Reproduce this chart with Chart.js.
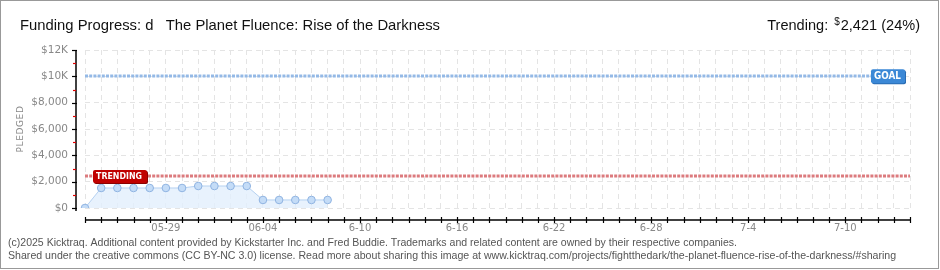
<!DOCTYPE html>
<html>
<head>
<meta charset="utf-8">
<script src="https://cdn.jsdelivr.net/npm/chart.js@4/dist/chart.umd.min.js"></script>
<style>
html,body{margin:0;padding:0;background:#fff;}
canvas{display:block;}
</style>
</head>
<body>
<canvas id="c" width="940" height="270"></canvas>
<script>
const days = ['05-24','05-25','05-26','05-27','05-28','05-29','05-30','05-31',
  '06-01','06-02','06-03','06-04','06-05','06-06','06-07','06-08','06-09','06-10',
  '06-11','06-12','06-13','06-14','06-15','06-16','06-17','06-18','06-19','06-20',
  '06-21','06-22','06-23','06-24','06-25','06-26','06-27','06-28','06-29','06-30',
  '07-01','07-02','07-03','07-04','07-05','07-06','07-07','07-08','07-09','07-10',
  '07-11','07-12','07-13','07-14'];
const pledged = [0, 1520, 1520, 1520, 1520, 1520, 1520, 1670, 1670, 1670, 1670, 610, 610, 610, 610, 610];
const labelDays = ['05-29','06-04','06-10','06-16','06-22','06-28','07-04','07-10'];
const labelTexts = ['05-29','06-04','6-10','6-16','6-22','6-28','7-4','7-10'];
const yTickValues = [0, 2000, 4000, 6000, 8000, 10000, 12000];
const yTickTexts = ['$0','$2,000','$4,000','$6,000','$8,000','$10K','$12K'];
const goal = 10000;
const trending = 2421;
const trendingPct = 24;
const titleText = 'Funding Progress: d   The Planet Fluence: Rise of the Darkness';
const footer1 = '(c)2025 Kicktraq. Additional content provided by Kickstarter Inc. and Fred Buddie. Trademarks and related content are owned by their respective companies.';
const footer2 = 'Shared under the creative commons (CC BY-NC 3.0) license. Read more about sharing this image at www.kicktraq.com/projects/fightthedark/the-planet-fluence-rise-of-the-darkness/#sharing';

const tickFont = {family: 'DejaVu Sans', size: 10.5};
const tickColor = '#888';

function roundRect(ctx, x, y, w, h, r) {
  ctx.beginPath();
  ctx.moveTo(x + r, y);
  ctx.lineTo(x + w - r, y);
  ctx.quadraticCurveTo(x + w, y, x + w, y + r);
  ctx.lineTo(x + w, y + h - r);
  ctx.quadraticCurveTo(x + w, y + h, x + w - r, y + h);
  ctx.lineTo(x + r, y + h);
  ctx.quadraticCurveTo(x, y + h, x, y + h - r);
  ctx.lineTo(x, y + r);
  ctx.quadraticCurveTo(x, y, x + r, y);
  ctx.closePath();
}

const deco = {
  id: 'deco',
  beforeDraw(chart) {
    const ctx = chart.ctx;
    ctx.save();
    ctx.fillStyle = '#fff';
    ctx.fillRect(0, 0, chart.width, chart.height);
    ctx.restore();
  },
  beforeDatasetsDraw(chart) {
    const ctx = chart.ctx, a = chart.chartArea, y = chart.scales.y;
    ctx.save();
    ctx.lineWidth = 3;
    ctx.setLineDash([3, 1.2]);
    const gy = Math.round(y.getPixelForValue(goal));
    ctx.strokeStyle = '#94b9e6';
    ctx.beginPath(); ctx.moveTo(a.left, gy); ctx.lineTo(a.right - 4, gy); ctx.stroke();
    const ty = Math.round(y.getPixelForValue(trending));
    ctx.strokeStyle = '#dc7b7e';
    ctx.beginPath(); ctx.moveTo(a.left, ty); ctx.lineTo(a.right, ty); ctx.stroke();
    ctx.restore();
  },
  afterDatasetsDraw(chart) {
    const ctx = chart.ctx, a = chart.chartArea, y = chart.scales.y;
    ctx.save();
    // TRENDING label
    const ty = y.getPixelForValue(trending);
    ctx.fillStyle = '#8a0000';
    roundRect(ctx, a.left + 9, ty - 5, 54, 13, 2); ctx.fill();
    ctx.fillStyle = '#c00000';
    roundRect(ctx, a.left + 8, ty - 6, 54, 13, 2); ctx.fill();
    ctx.fillStyle = '#fff';
    ctx.font = 'bold 9px "DejaVu Sans"';
    ctx.textBaseline = 'middle';
    ctx.textAlign = 'left';
    ctx.fillText('TRENDING', a.left + 11, ty + 0.5, 46);
    // GOAL label
    const gy = y.getPixelForValue(goal);
    ctx.fillStyle = '#2a6cb3';
    roundRect(ctx, a.right - 38, gy - 6, 34, 14, 2); ctx.fill();
    ctx.fillStyle = '#3b88d6';
    roundRect(ctx, a.right - 39, gy - 7, 34, 14, 2); ctx.fill();
    ctx.fillStyle = '#fff';
    ctx.font = 'bold 10px "DejaVu Sans"';
    ctx.fillText('GOAL', a.right - 36, gy + 0.5, 27);
    ctx.restore();
  },
  afterDraw(chart) {
    const ctx = chart.ctx, a = chart.chartArea, x = chart.scales.x, y = chart.scales.y;
    ctx.save();
    // axes
    ctx.strokeStyle = '#000';
    ctx.lineWidth = 1.5;
    const axY = a.bottom + 12;
    ctx.beginPath(); ctx.moveTo(a.left, axY); ctx.lineTo(a.right, axY); ctx.stroke();
    ctx.lineWidth = 1.2;
    for (let i = 0; i < days.length; i++) {
      const px = Math.round(x.getPixelForValue(i)) + 0.5;
      ctx.beginPath(); ctx.moveTo(px, axY - 3); ctx.lineTo(px, axY + 3); ctx.stroke();
    }
    const axX = a.left - 9;
    ctx.lineWidth = 1.5;
    ctx.beginPath(); ctx.moveTo(axX, a.top); ctx.lineTo(axX, a.bottom + 3); ctx.stroke();
    for (const v of yTickValues) {
      const py = Math.round(y.getPixelForValue(v)) + 0.5;
      ctx.lineWidth = 1.2; ctx.strokeStyle = '#000';
      ctx.beginPath(); ctx.moveTo(axX - 4, py); ctx.lineTo(axX + 1, py); ctx.stroke();
      if (v + 1000 < 12000) {
        const my = Math.round(y.getPixelForValue(v + 1000)) + 0.5;
        ctx.strokeStyle = '#e00000';
        ctx.beginPath(); ctx.moveTo(axX - 3, my); ctx.lineTo(axX, my); ctx.stroke();
      }
    }
    // PLEDGED
    ctx.save();
    ctx.translate(21, (a.top + a.bottom) / 2);
    ctx.rotate(-Math.PI / 2);
    ctx.fillStyle = '#888';
    ctx.font = '9px "DejaVu Sans"';
    ctx.letterSpacing = '0.6px';
    ctx.textAlign = 'center';
    ctx.textBaseline = 'middle';
    ctx.fillText('PLEDGED', 0, 0);
    ctx.restore();
    // title
    ctx.fillStyle = '#111';
    ctx.textBaseline = 'alphabetic';
    ctx.textAlign = 'left';
    const tf = '15px "Liberation Sans", sans-serif';
    ctx.font = tf;
    ctx.fillText(titleText, 20, 30, 420);
    // trending right
    const s1 = trending.toLocaleString('en-US') + ' (' + trendingPct + '%)';
    const w1 = ctx.measureText(s1).width * 0.97;
    let rx = 920 - w1;
    ctx.fillText(s1, rx, 30, w1);
    ctx.font = '10px "Liberation Sans", sans-serif';
    const wd = ctx.measureText('$').width;
    rx -= wd + 1;
    ctx.fillText('$', rx, 25);
    ctx.font = tf;
    const wt = ctx.measureText('Trending:').width * 0.97;
    rx -= wt + 6;
    ctx.fillText('Trending:', rx, 30, wt);
    // footer
    ctx.fillStyle = '#555';
    ctx.font = '10.6px "Liberation Sans", sans-serif';
    ctx.fillText(footer1, 8, 246, 729);
    ctx.fillText(footer2, 8, 259, 889);
    // border
    ctx.strokeStyle = '#999';
    ctx.lineWidth = 1;
    ctx.strokeRect(0.5, 0.5, 938, 268);
    ctx.restore();
  }
};

new Chart(document.getElementById('c'), {
  type: 'line',
  data: {
    labels: days,
    datasets: [{
      data: pledged,
      fill: 'origin',
      backgroundColor: 'rgba(226,239,253,0.8)',
      borderColor: '#b5d1f1',
      borderWidth: 1,
      pointRadius: 3.8,
      pointBackgroundColor: '#c4dcf7',
      pointBorderColor: '#90b4e2',
      pointBorderWidth: 1,
      tension: 0
    }]
  },
  options: {
    responsive: false,
    animation: false,
    devicePixelRatio: 1,
    layout: {padding: {left: 0, right: 30, top: 50, bottom: 0}},
    plugins: {legend: {display: false}, tooltip: {enabled: false}},
    scales: {
      x: {
        type: 'category',
        offset: false,
        grid: {color: '#e4e4e4', lineWidth: 1, drawTicks: false},
        border: {display: false, dash: [5, 4]},
        ticks: {
          autoSkip: false, maxRotation: 0, minRotation: 0, padding: 14,
          font: {family: 'DejaVu Sans', size: 10}, color: tickColor,
          callback: function (v, i) {
            const k = labelDays.indexOf(days[i]);
            return k >= 0 ? labelTexts[k] : '';
          }
        },
        afterFit: s => { s.height = 62; }
      },
      y: {
        min: 0, max: 12000,
        grid: {color: '#e4e4e4', lineWidth: 1, drawTicks: false},
        border: {display: false, dash: [5, 4]},
        ticks: {
          stepSize: 2000, padding: 17, font: tickFont, color: tickColor,
          callback: function (v) {
            const k = yTickValues.indexOf(v);
            return k >= 0 ? yTickTexts[k] : '';
          }
        },
        afterFit: s => { s.width = 85; }
      }
    }
  },
  plugins: [deco]
});
</script>
</body>
</html>
